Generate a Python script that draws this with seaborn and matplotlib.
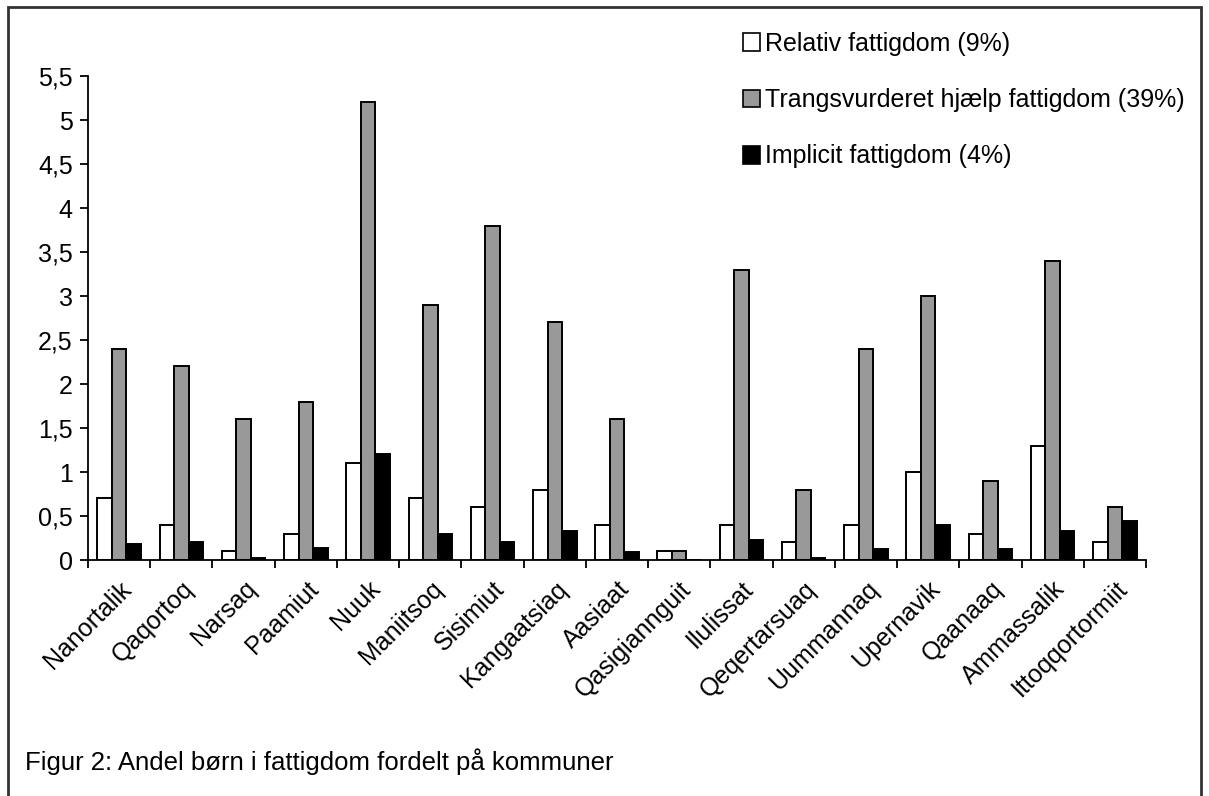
import pandas as pd
import matplotlib.pyplot as plt
import matplotlib.patches as mpatches
import seaborn as sns
import numpy as np

kommuner = ['Nanortalik', 'Qaqortoq', 'Narsaq', 'Paamiut', 'Nuuk', 'Maniitsoq',
            'Sisimiut', 'Kangaatsiaq', 'Aasiaat', 'Qasigiannguit', 'Ilulissat',
            'Qeqertarsuaq', 'Uummannaq', 'Upernavik', 'Qaanaaq', 'Ammassalik',
            'Ittoqqortormiit']
relativ = [0.7, 0.4, 0.1, 0.3, 1.1, 0.7, 0.6, 0.8, 0.4, 0.1, 0.4, 0.2, 0.4, 1.0, 0.3, 1.3, 0.2]
trang = [2.4, 2.2, 1.6, 1.8, 5.2, 2.9, 3.8, 2.7, 1.6, 0.1, 3.3, 0.8, 2.4, 3.0, 0.9, 3.4, 0.6]
implicit = [0.18, 0.2, 0.02, 0.14, 1.2, 0.3, 0.2, 0.33, 0.09, 0.0, 0.23, 0.02, 0.12, 0.4, 0.12, 0.33, 0.44]
serier = ['Relativ fattigdom (9%)', 'Trangsvurderet hjælp fattigdom (39%)', 'Implicit fattigdom (4%)']
farver = ['white', '#999999', 'black']

df = pd.DataFrame({
    'kommune': kommuner * 3,
    'serie': [serier[0]] * 17 + [serier[1]] * 17 + [serier[2]] * 17,
    'andel': relativ + trang + implicit,
})

sns.set_style('white')
plt.rcParams['font.family'] = ['Liberation Sans', 'DejaVu Sans']
plt.rcParams['text.color'] = 'black'
plt.rcParams['xtick.color'] = 'black'
plt.rcParams['ytick.color'] = 'black'
fs = 18

fig = plt.figure(figsize=(12.09, 7.96), dpi=100)
ax = fig.add_axes([88/1209, 1-560/796, (1146-88)/1209, (560-76)/796])

sns.barplot(data=df, x='kommune', y='andel', hue='serie', palette=farver,
            order=kommuner, hue_order=serier, width=0.7, edgecolor='black',
            linewidth=1.4, saturation=1, legend=False, ax=ax)

ax.set_xlim(-0.5, len(kommuner) - 0.5)
ax.set_ylim(0, 5.5)
yt = np.arange(0, 5.51, 0.5)
ax.set_yticks(yt)
ax.set_yticklabels([('%g' % v).replace('.', ',') for v in yt], fontsize=fs)
ax.set_xticks(range(len(kommuner)))
ax.set_xticklabels(kommuner, rotation=45, ha='right', rotation_mode='anchor', fontsize=fs)
ax.set_xticks(np.arange(-0.5, len(kommuner)), minor=True)
ax.tick_params(axis='x', which='major', bottom=True, length=0, pad=12)
ax.tick_params(axis='x', which='minor', bottom=True, length=6, width=1.3,
               direction='out', color='black')
ax.tick_params(axis='y', left=True, length=6, width=1.3, direction='out',
               color='black', pad=5)
ax.set_xlabel('')
ax.set_ylabel('')
for s in ['top', 'right']:
    ax.spines[s].set_visible(False)
for s in ['left', 'bottom']:
    ax.spines[s].set_color('black')
    ax.spines[s].set_linewidth(1.3)

handles = [mpatches.Patch(facecolor=c, edgecolor='black', linewidth=1.2, label=l)
           for c, l in zip(farver, serier)]
fig.legend(handles=handles, loc='upper left', bbox_to_anchor=(720/1209, 1-9/796),
           frameon=False, fontsize=fs, handlelength=0.7, handleheight=0.7,
           handletextpad=0.2, labelspacing=1.3)

fig.text(25/1209, 1-770/796, 'Figur 2: Andel børn i fattigdom fordelt på kommuner',
         fontsize=18.5, ha='left', va='baseline')

fig.patches.append(mpatches.Rectangle((8/1209, -0.1), (1201-8)/1209, 1.1-7/796,
                                      transform=fig.transFigure, fill=False,
                                      edgecolor='#333333', linewidth=2.0))

fig.savefig('out.png', dpi=100)
